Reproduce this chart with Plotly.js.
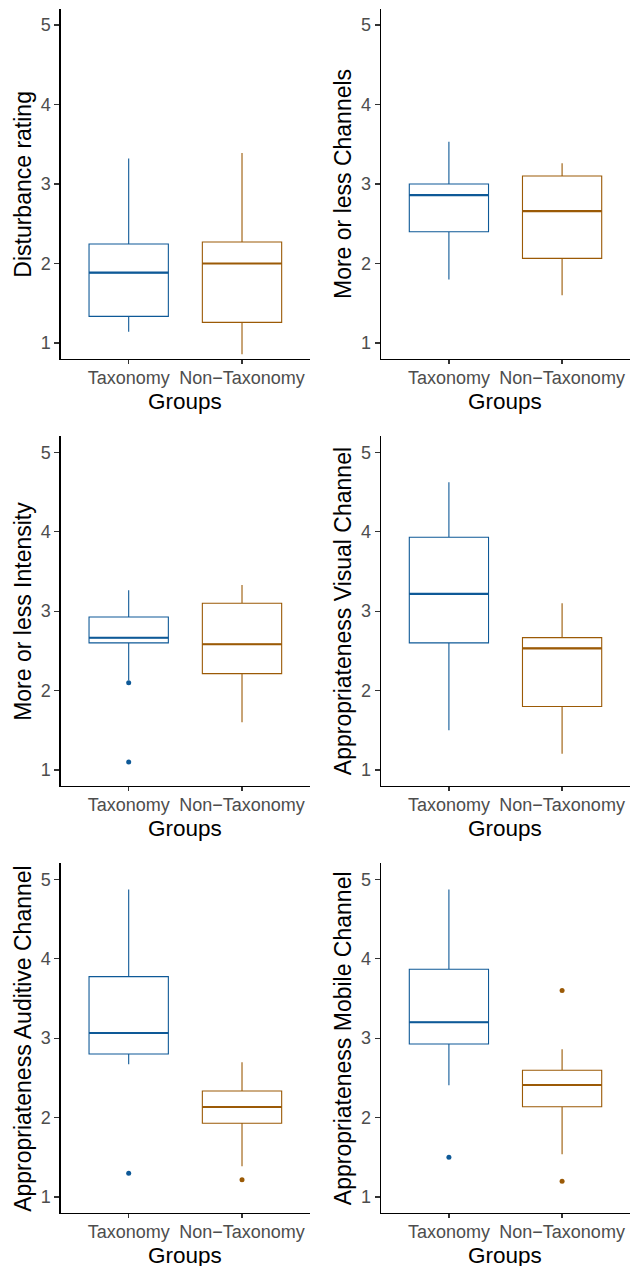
<!DOCTYPE html>
<html>
<head>
<meta charset="utf-8">
<script src="https://cdn.plot.ly/plotly-3.0.1.min.js"></script>
<style>html,body{margin:0;padding:0;background:#fff;}#chart{width:630px;height:1266px;}</style>
</head>
<body>
<div id="chart"></div>
<script>
// ---- data ----
const groups = ['Taxonomy', 'Non\u2212Taxonomy'];
const yTitles = ['Disturbance rating', 'More or less Channels', 'More or less Intensity',
                 'Appropriateness Visual Channel', 'Appropriateness Auditive Channel', 'Appropriateness Mobile Channel'];

// Taxonomy group, one value per panel
const taxLow  = [1.14, 1.80, 2.13, 1.50, 2.67, 2.406];
const taxQ1   = [1.335, 2.40, 2.60, 2.60, 2.80, 2.927];
const taxMed  = [1.885, 2.86, 2.665, 3.217, 3.065, 3.20];
const taxQ3   = [2.245, 3.00, 2.927, 3.93, 3.774, 3.867];
const taxHigh = [3.32, 3.53, 3.263, 4.623, 4.87, 4.87];
const taxOut  = [[], [], [2.1, 1.1], [], [1.3], [1.5]];

// Non-Taxonomy group, one value per panel
const nonLow  = [0.86, 1.60, 1.60, 1.206, 1.386, 1.537];
const nonQ1   = [1.26, 2.065, 2.213, 1.80, 1.928, 2.137];
const nonMed  = [2.00, 2.66, 2.583, 2.532, 2.133, 2.41];
const nonQ3   = [2.27, 3.10, 3.10, 2.667, 2.335, 2.595];
const nonHigh = [3.39, 3.26, 3.33, 3.10, 2.696, 2.86];
const nonOut  = [[], [], [], [], [1.218], [3.6, 1.2]];

const yTicks = [1, 2, 3, 4, 5];

// ---- styling ----
const blue = '#0E5997';
const brown = '#9B5A06';
const FONT = 'Liberation Sans, Arial, Helvetica, sans-serif';
const colDomains = [[0.09635, 0.49206], [0.60476, 1.0]];
const rowDomains = [[0.71651, 0.99281], [0.37923, 0.65529], [0.04194, 0.31801]];

const traces = [];
const layout = {
  width: 630, height: 1266,
  margin: {l: 0, r: 0, t: 0, b: 0},
  paper_bgcolor: '#ffffff', plot_bgcolor: '#ffffff',
  showlegend: false,
  font: {family: FONT, color: '#000'},
  annotations: []
};

function addBox(g, color, low, q1, med, q3, high, out, xa, ya) {
  traces.push({
    type: 'box', x: [g], q1: [q1], median: [med], q3: [q3],
    lowerfence: [low], upperfence: [high],
    xaxis: xa, yaxis: ya, width: 0.7, whiskerwidth: 0,
    line: {color: color, width: 1.1}, fillcolor: '#ffffff',
    boxpoints: false, hoverinfo: 'skip'
  });
  // thicker median line, as in the reference
  traces.push({
    type: 'box', x: [g], q1: [med], median: [med], q3: [med],
    lowerfence: [med], upperfence: [med],
    xaxis: xa, yaxis: ya, width: 0.7, whiskerwidth: 0,
    line: {color: color, width: 2.2}, fillcolor: 'rgba(0,0,0,0)',
    boxpoints: false, hoverinfo: 'skip'
  });
  if (out.length) {
    traces.push({
      type: 'scatter', mode: 'markers', x: out.map(() => g), y: out,
      xaxis: xa, yaxis: ya, marker: {color: color, size: 5}, hoverinfo: 'skip'
    });
  }
}

for (let i = 0; i < 6; i++) {
  const n = i + 1;
  const xa = 'x' + (n === 1 ? '' : n);
  const ya = 'y' + (n === 1 ? '' : n);
  const col = i % 2, row = Math.floor(i / 2);

  addBox(groups[0], blue, taxLow[i], taxQ1[i], taxMed[i], taxQ3[i], taxHigh[i], taxOut[i], xa, ya);
  addBox(groups[1], brown, nonLow[i], nonQ1[i], nonMed[i], nonQ3[i], nonHigh[i], nonOut[i], xa, ya);

  layout['xaxis' + (n === 1 ? '' : n)] = {
    domain: colDomains[col], anchor: ya,
    type: 'category', categoryorder: 'array', categoryarray: groups,
    range: [-0.6, 1.6], fixedrange: true,
    showline: true, linecolor: '#000', linewidth: 1.3, mirror: false,
    ticks: 'outside', ticklen: 4, tickwidth: 1.2, tickcolor: '#333',
    ticklabelstandoff: -2,
    showgrid: false, zeroline: false,
    tickfont: {family: FONT, size: 18, color: '#4D4D4D'}
  };
  layout['yaxis' + (n === 1 ? '' : n)] = {
    domain: rowDomains[row], anchor: xa,
    range: [0.8, 5.2], fixedrange: true,
    tickmode: 'array', tickvals: yTicks, ticktext: yTicks.map(String),
    showline: true, linecolor: '#000', linewidth: 1.3,
    ticks: 'outside', ticklen: 5, tickwidth: 1.2, tickcolor: '#333',
    showgrid: false, zeroline: false,
    tickfont: {family: FONT, size: 18, color: '#4D4D4D'}
  };

  layout.annotations.push({
    text: 'Groups', showarrow: false,
    xref: xa + ' domain', yref: ya + ' domain', x: 0.5, y: 0,
    xanchor: 'center', yanchor: 'middle', yshift: -43,
    font: {family: FONT, size: 22.5, color: '#000'}
  });
  layout.annotations.push({
    text: yTitles[i], showarrow: false, textangle: -90,
    xref: xa + ' domain', yref: ya + ' domain', x: 0, y: 0.5,
    xanchor: 'center', yanchor: 'middle', xshift: -38,
    font: {family: FONT, size: 23, color: '#000'}
  });
}

Plotly.newPlot('chart', traces, layout, {displayModeBar: false, staticPlot: true});
</script>
</body>
</html>
